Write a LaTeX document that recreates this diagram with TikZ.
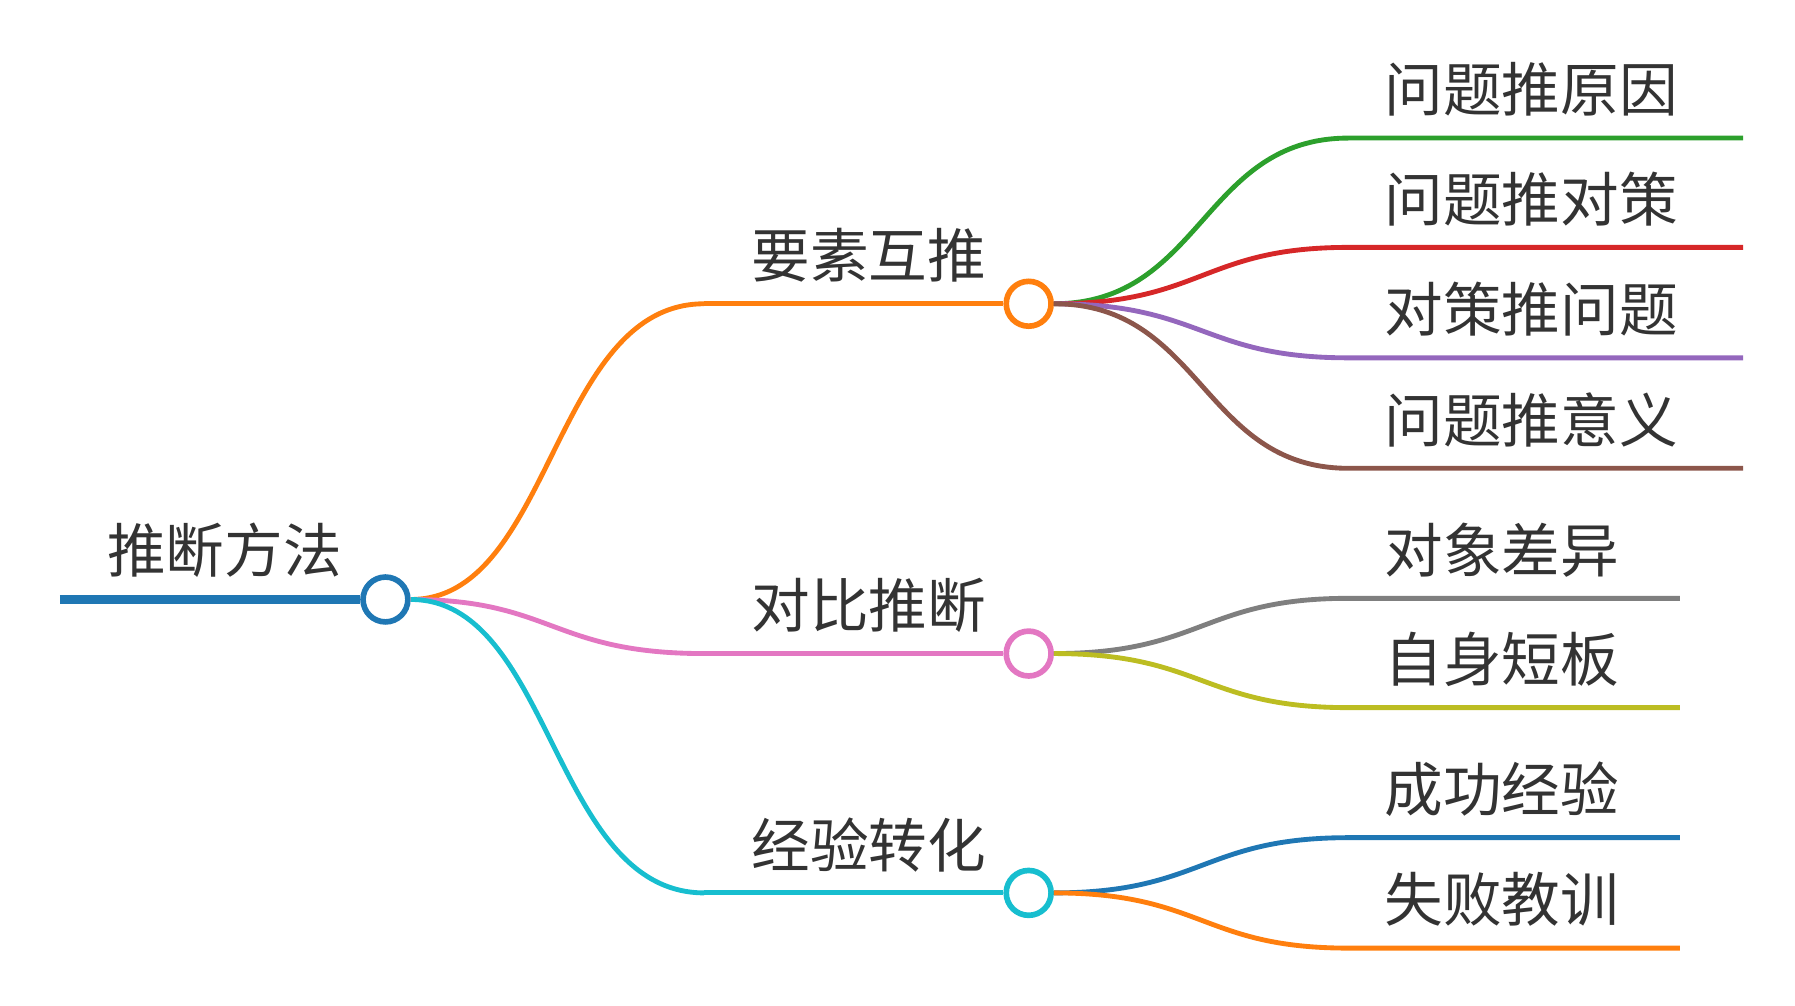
\documentclass[tikz,border=0pt]{standalone}
\usepackage{fontspec}
\setmainfont{Noto Sans CJK SC}
\definecolor{cO}{HTML}{FF7F0E}\definecolor{cP}{HTML}{E377C2}\definecolor{cC}{HTML}{17BECF}
\definecolor{cB}{HTML}{1F77B4}\definecolor{cG}{HTML}{2CA02C}\definecolor{cR}{HTML}{D62728}
\definecolor{cV}{HTML}{9467BD}\definecolor{cN}{HTML}{8C564B}\definecolor{cY}{HTML}{7F7F7F}
\definecolor{cL}{HTML}{BCBD22}\definecolor{tx}{HTML}{333333}
\begin{document}
\begin{tikzpicture}[x=0.02cm,y=-0.02cm,
  lbl/.style={text=tx,font=\fontsize{29}{30}\selectfont,inner sep=0pt},
  hub/.style={circle,draw=#1,line width=2.8pt,fill=white,minimum size=0.78cm,inner sep=0pt},
  br/.style={line width=2.4pt,draw=#1}]
\useasboundingbox (0,0) rectangle (1560,874);
\coordinate (r0) at (52,521);
\node[hub=cB] (root) at (335,521) {};
\draw[line width=4pt,cB] (r0) -- (root.west);
\node[lbl] at (195,478) {推断方法};
\foreach \n/\y/\c/\t in {a/264/cO/要素互推, b/568/cP/对比推断, c/776/cC/经验转化}{
  \coordinate (\n s) at (612,\y);
  \draw[br=\c] (root.east) .. controls (480,521) and (480,\y) .. (\n s);
  \node[hub=\c] (\n) at (894,\y) {};
  \draw[br=\c] (\n s) -- (\n.west);
  \node[lbl] at (755,\y-42) {\t};
}
\foreach \p/\py/\y/\c/\t/\e in {a/264/120/cG/问题推原因/1515, a/264/215/cR/问题推对策/1515, a/264/311/cV/对策推问题/1515, a/264/407/cN/问题推意义/1515,
  b/568/520/cY/对象差异/1460, b/568/615/cL/自身短板/1460, c/776/728/cB/成功经验/1460, c/776/824/cO/失败教训/1460}{
  \coordinate (m) at (1172,\y);
  \coordinate (e) at (\e,\y);
  \draw[br=\c] (\p.east) .. controls (1045,\py) and (1045,\y) .. (m) -- (e);
  \node[lbl,anchor=west] at (1203,\y-42) {\t};
}
\end{tikzpicture}
\end{document}
